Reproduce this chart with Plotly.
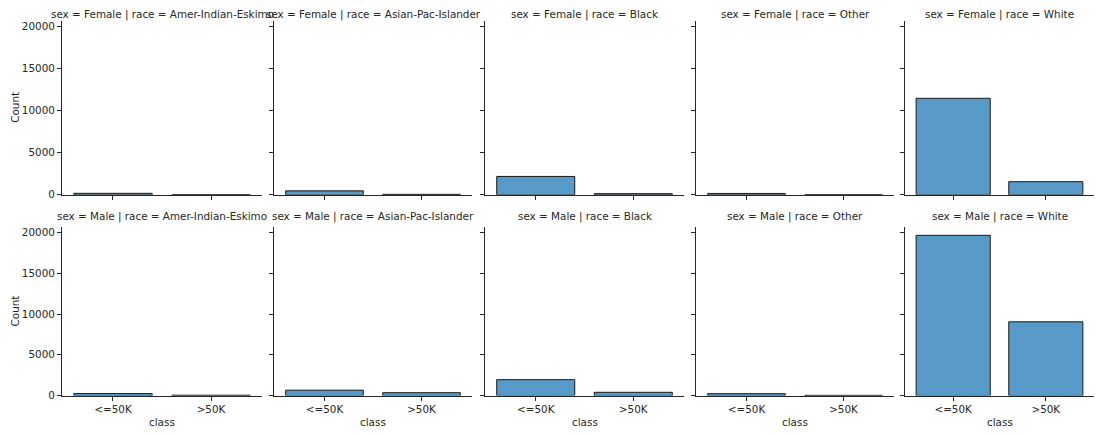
import plotly.graph_objects as go

sexes = ["Female", "Male"]
races = ["Amer-Indian-Eskimo", "Asian-Pac-Islander", "Black", "Other", "White"]
classes = ["<=50K", ">50K"]
# counts[sex][race] = [<=50K, >50K]
counts_female = {
    "Amer-Indian-Eskimo": [180, 15],
    "Asian-Pac-Islander": [470, 60],
    "Black": [2180, 140],
    "Other": [165, 15],
    "White": [11440, 1560],
}
counts_male = {
    "Amer-Indian-Eskimo": [240, 45],
    "Asian-Pac-Islander": [660, 350],
    "Black": [1950, 400],
    "Other": [230, 30],
    "White": [19660, 9050],
}
counts = {"Female": counts_female, "Male": counts_male}
yticks = [0, 5000, 10000, 15000, 20000]

W, H = 1096, 436
col_px = [(62, 262), (274, 472), (485, 684), (696, 894), (905, 1094)]
row_px = [(20, 197), (230, 401)]
title_px = [14, 219]


def fx(px):
    return px / W


def fy(py):
    return 1 - py / H


BAR = "rgba(31,119,180,0.75)"
TXT = "#262626"
FONT = "DejaVu Sans"
FS = 10.4

fig = go.Figure()
layout = dict(
    width=W, height=H,
    margin=dict(l=0, r=0, t=0, b=0),
    paper_bgcolor="white", plot_bgcolor="white",
    showlegend=False, bargap=0.2,
    font=dict(family=FONT, size=FS, color=TXT),
)
annotations = []
ymax = max(max(v) for s in counts.values() for v in s.values()) * 1.05

k = 0
for r, sex in enumerate(sexes):
    for c, race in enumerate(races):
        k += 1
        xa = "x" if k == 1 else f"x{k}"
        ya = "y" if k == 1 else f"y{k}"
        fig.add_trace(go.Bar(
            x=[0, 1], y=counts[sex][race], xaxis=xa, yaxis=ya,
            marker=dict(color=BAR, line=dict(color="#1a1a1a", width=1)),
            hoverinfo="x+y",
        ))
        x0, x1 = col_px[c]
        y0, y1 = row_px[r]
        bottom = r == len(sexes) - 1
        layout["xaxis" if k == 1 else f"xaxis{k}"] = dict(
            domain=[fx(x0), fx(x1)], anchor=ya,
            range=[-0.52, 1.52], tickvals=[0, 1],
            ticktext=classes if bottom else ["", ""],
            showline=True, linecolor=TXT, linewidth=1,
            ticks="outside", ticklen=4, tickwidth=0.8, tickcolor=TXT,
            showgrid=False, zeroline=False, fixedrange=True,
            tickfont=dict(size=FS, color=TXT),
        )
        layout["yaxis" if k == 1 else f"yaxis{k}"] = dict(
            domain=[fy(y1), fy(y0)], anchor=xa,
            range=[0, ymax], tickvals=yticks,
            ticktext=[str(t) for t in yticks],
            showticklabels=(c == 0),
            showline=True, linecolor=TXT, linewidth=1,
            ticks="outside", ticklen=4, tickwidth=0.8, tickcolor=TXT,
            showgrid=False, zeroline=False, fixedrange=True,
            tickfont=dict(size=FS, color=TXT),
        )
        annotations.append(dict(
            text=f"sex = {sex} | race = {race}",
            x=fx((x0 + x1) / 2), y=fy(title_px[r]),
            xref="paper", yref="paper", xanchor="center", yanchor="middle",
            showarrow=False, font=dict(size=FS, color=TXT),
        ))
        if bottom:
            annotations.append(dict(
                text="class", x=fx((x0 + x1) / 2), y=fy(428),
                xref="paper", yref="paper", xanchor="center", yanchor="middle",
                showarrow=False, font=dict(size=FS, color=TXT),
            ))
    annotations.append(dict(
        text="Count", x=fx(15), y=fy((row_px[r][0] + row_px[r][1]) / 2),
        xref="paper", yref="paper", xanchor="center", yanchor="middle",
        textangle=-90, showarrow=False, font=dict(size=FS, color=TXT),
    ))

layout["annotations"] = annotations
fig.update_layout(**layout)
fig.write_html(
    "out.html",
    config={"displayModeBar": False},
    post_script="document.body.style.margin='0';document.body.style.overflow='hidden';",
)
